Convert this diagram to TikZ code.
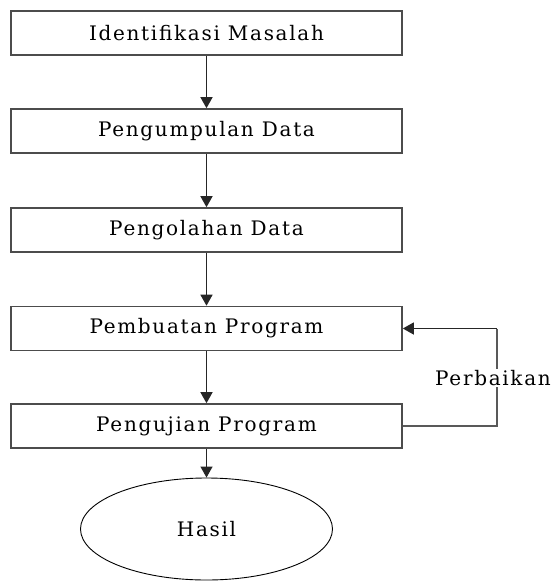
\documentclass[tikz,border=0pt]{standalone}
\usepackage{fontspec}
\setmainfont{DejaVu Serif}[LetterSpace=8.5]
\usetikzlibrary{arrows.meta,shapes.geometric}
\begin{document}
\begin{tikzpicture}[x=1pt,y=-1pt,
  every node/.style={font=\fontsize{20}{24}\selectfont, text=black},
  stepbox/.style={draw=black!70, line width=1.6pt, minimum width=391pt, minimum height=44pt, inner sep=0pt},
  link/.style={draw=black!85, line width=1.3pt, -{Triangle[width=12pt,length=11pt]}},
  back/.style={draw=black!65, line width=1.3pt}]
\useasboundingbox (0,0) rectangle (554,584);
\node[stepbox] (b1) at (206.5,33) {Identifikasi Masalah};
\node[stepbox] (b2) at (206.5,131) {Pengumpulan Data};
\node[stepbox] (b3) at (206.5,230) {Pengolahan Data};
\node[stepbox] (b4) at (206.5,328.5) {Pembuatan Program};
\node[stepbox] (b5) at (206.5,426) {Pengujian Program};
\node[ellipse, draw=black, line width=0.9pt, minimum width=252pt, minimum height=102pt, inner sep=0pt] (h) at (206.5,529) {Hasil};
\draw[link] (b1) -- (b2);
\draw[link] (b2) -- (b3);
\draw[link] (b3) -- (b4);
\draw[link] (b4) -- (b5);
\draw[link] (b5) -- (h);
\coordinate (c1) at (497,426);
\coordinate (c2) at (497,328.5);
\draw[back] (b5.east) -- (c1) -- (c2);
\draw[link] (c2) -- (b4.east);
\node[fill=white, inner sep=1pt, anchor=east] (lbl) at (552,378) {Perbaikan};
\end{tikzpicture}
\end{document}
